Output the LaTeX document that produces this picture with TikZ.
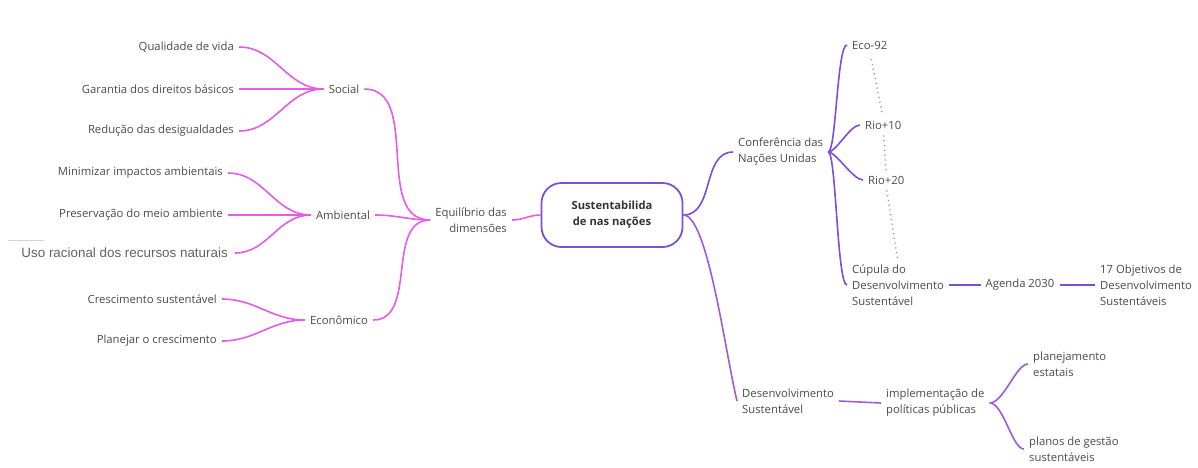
\documentclass[tikz,border=0pt]{standalone}
\usepackage{fontspec}
\setmainfont{Open Sans}
\newfontfamily\arialfont{Liberation Sans}
\usepackage{xcolor}
\definecolor{rosa}{HTML}{E65CE6}
\definecolor{roxo}{HTML}{7B4FD6}
\definecolor{lilas}{HTML}{9E5BD8}
\definecolor{texto}{HTML}{4A4A4A}

\begin{document}
\begin{tikzpicture}
  [x=1pt,y=-1pt,
   every node/.style={font=\fontsize{11.3}{16}\selectfont,text=texto,inner xsep=5pt,inner ysep=2pt},
   folha/.style={anchor=east},
   ramo/.style={anchor=west,align=left},
   rosaline/.style={draw=rosa,line width=1.6pt},
   roxoline/.style={draw=roxo,line width=1.6pt},
   lilasline/.style={draw=lilas,line width=1.6pt},
   pontos/.style={draw=gray!85,line width=1.3pt,dash pattern=on 1.2pt off 3.6pt}]
  \useasboundingbox (0,0) rectangle (1198,467);

  \node[draw=roxo,line width=1.8pt,rounded corners=20pt,minimum width=141pt,minimum height=64pt,
        align=center,font=\fontsize{11.2}{16}\selectfont\bfseries,text=black!80] (centro) at (612,215)
        {Sustentabilida\\de nas nações};

  \node[anchor=east,align=right] (equi) at (512,220) {Equilíbrio das\\dimensões};
  \node (social) at (344,89) {Social};
  \node (ambi) at (343,215) {Ambiental};
  \node (econ) at (339,320) {Econômico};

  \node[folha] (qual) at (239,47) {Qualidade de vida};
  \node[folha] (gar) at (239,89) {Garantia dos direitos básicos};
  \node[folha] (red) at (239,131) {Redução das desigualdades};
  \node[folha] (mini) at (228,173) {Minimizar impactos ambientais};
  \node[folha] (pres) at (228,215) {Preservação do meio ambiente};
  \node[folha,font=\arialfont\fontsize{13.4}{16}\selectfont,text=black!62,inner xsep=7pt] (uso) at (235,253)
        {Uso racional dos recursos naturais};
  \node[folha] (cres) at (222,299) {Crescimento sustentável};
  \node[folha] (plan) at (222,341) {Planejar o crescimento};
  \draw[gray!35,line width=0.8pt] (8,240) -- (44,240);

  \node[ramo] (conf) at (733,152) {Conferência das\\Nações Unidas};
  \node[ramo] (eco) at (847,45) {Eco-92};
  \node[ramo] (rio10) at (860,125) {Rio+10};
  \node[ramo] (rio20) at (863,180) {Rio+20};
  \node[ramo] (cup) at (847,285) {Cúpula do\\Desenvolvimento\\Sustentável};
  \node (agenda) at (1020,285) {Agenda 2030};
  \node[ramo] (obj) at (1095,285) {17 Objetivos de\\Desenvolvimento\\Sustentáveis};

  \node[ramo] (desen) at (737,401) {Desenvolvimento\\Sustentável};
  \node[ramo] (impl) at (881,403) {implementação de\\políticas públicas};
  \node[ramo] (planej) at (1028,364) {planejamento\\estatais};
  \node[ramo] (planos) at (1024,449) {planos de gestão\\sustentáveis};

  \foreach \from/\to in {qual/social,gar/social,red/social,mini/ambi,pres/ambi,uso/ambi,cres/econ,plan/econ,
                         social/equi,ambi/equi,econ/equi,equi/centro}
    \draw[rosaline] (\from.east) to[out=0,in=180] (\to.west);

  \draw[roxoline] (centro.east) to[out=0,in=180] (conf.west);
  \foreach \to in {eco,rio10,rio20,cup}
    \draw[roxoline] (conf.east) .. controls +(8,0) and +(-10,0) .. (\to.west);
  \draw[roxoline] (cup.east) -- (agenda.west);
  \draw[roxoline] (agenda.east) -- (obj.west);

  \draw[lilasline] (centro.east) .. controls +(24,0) and +(-12,-50) .. (desen.west);
  \draw[lilasline] (desen.east) -- (impl.west);
  \foreach \to in {planej,planos}
    \draw[lilasline] (impl.east) .. controls +(14,0) and +(-12,0) .. (\to.west);

  \draw[pontos,shorten <=8pt,shorten >=3pt] (eco.south) -- (rio10.north);
  \draw[pontos,shorten <=4pt,shorten >=3pt] (rio10.south) -- (rio20.north);
  \draw[pontos,shorten <=4pt,shorten >=2pt] (rio20.south) -- (cup.north);
\end{tikzpicture}
\end{document}
